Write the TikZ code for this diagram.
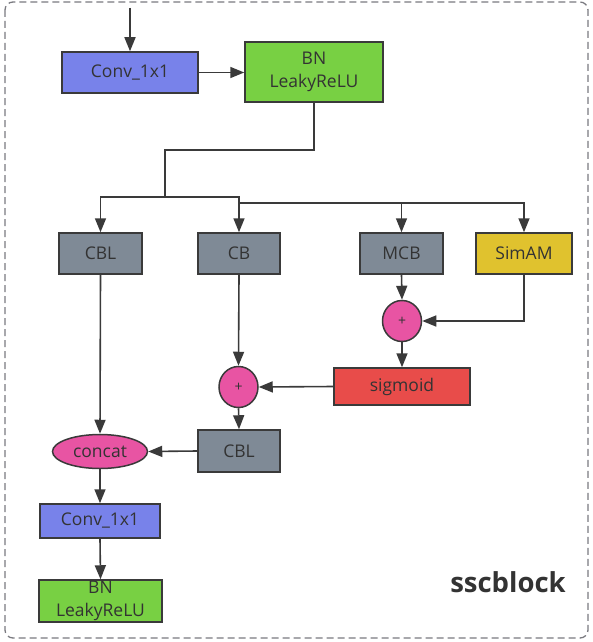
\documentclass[tikz,border=0pt]{standalone}
\usepackage{fontspec}
\setmainfont{Open Sans}
\usetikzlibrary{arrows.meta,shapes.geometric}
\definecolor{txt}{HTML}{333333}
\definecolor{edge}{HTML}{3A3A3A}
\definecolor{convblue}{HTML}{7882EA}
\definecolor{bngreen}{HTML}{78D043}
\definecolor{opgrey}{HTML}{7F8A96}
\definecolor{simyellow}{HTML}{E0C22E}
\definecolor{sigred}{HTML}{E84C4A}
\definecolor{oppink}{HTML}{E854A3}
\definecolor{frame}{HTML}{7A7A80}
\begin{document}
\begin{tikzpicture}[x=1pt,y=-1pt,
  every node/.style={font=\fontsize{17.5}{22.5}\selectfont, text=txt},
  box/.style={draw=edge, line width=1.5pt, rectangle, inner sep=0pt, align=center},
  addop/.style={draw=edge, line width=1.5pt, ellipse, fill=oppink, inner sep=0pt,
    minimum width=39pt, minimum height=41pt, font=\fontsize{14}{14}\selectfont},
  arr/.style={draw=edge, line width=1.6pt, -{Triangle[length=14pt,width=11pt]}},
  link/.style={draw=edge, line width=1.6pt}]
\useasboundingbox (0,0) rectangle (592,642);
\draw[frame, line width=1.3pt, dash pattern=on 7pt off 4pt, rounded corners=8pt] (5,2) rectangle (588,638);

% stem
\node[box, fill=convblue, minimum width=136pt, minimum height=41pt] (conv1) at (130,72.5) {Conv\_1x1};
\node[box, fill=bngreen, minimum width=138pt, minimum height=60pt] (bn1) at (314,72) {BN\\LeakyReLU};

% four branches
\node[box, fill=opgrey, minimum width=83pt, minimum height=41pt] (cbl1) at (100.5,253.5) {CBL};
\node[box, fill=opgrey, minimum width=82pt, minimum height=41pt] (cb) at (239,253.5) {CB};
\node[box, fill=opgrey, minimum width=83pt, minimum height=41pt] (mcb) at (401.5,253.5) {MCB};
\node[box, fill=simyellow, minimum width=96pt, minimum height=41pt] (simam) at (524,253.5) {SimAM};

\node[addop] (plus1) at (402,321) {+};
\node[box, fill=sigred, minimum width=136pt, minimum height=37pt] (sigmoid) at (402,386.5) {sigmoid};
\node[addop] (plus2) at (238.5,387) {+};
\node[box, fill=opgrey, minimum width=82pt, minimum height=42pt] (cbl2) at (239,451) {CBL};

% fusion head
\node[draw=edge, line width=1.5pt, ellipse, fill=oppink, inner sep=0pt,
      minimum width=95pt, minimum height=34pt] (concat) at (100,451.5) {concat};
\node[box, fill=convblue, minimum width=120pt, minimum height=34pt] (conv2) at (100,521) {Conv\_1x1};
\node[box, fill=bngreen, minimum width=123pt, minimum height=42pt] (bn2) at (100.5,601) {BN\\LeakyReLU};

\node[font=\bfseries\fontsize{27.5}{30}\selectfont, text=txt] (title) at (508,582) {sscblock};

% connectors
\coordinate (in) at (130,8);
\coordinate (elbow) at (314,150);
\coordinate (split) at (165,197);
\coordinate (split2) at (239,203);

\draw[arr] (in) -- (conv1.north);
\draw[arr] (conv1.east) -- (bn1.west |- conv1.east);
\draw[link] (bn1.south) -- (elbow) -| (split);
\draw[arr] (split) -| (cbl1.north);
\draw[arr] (split) -| (cb.north);
\draw[arr] (split2) -| (mcb.north);
\draw[arr] (split2) -| (simam.north);

\draw[arr] (mcb.south) -- (plus1.north);
\draw[arr] (simam.south) |- (plus1.east);
\draw[arr] (plus1.south) -- (sigmoid.north);
\draw[arr] (sigmoid.west) -- (plus2.east);
\draw[arr] (cb.south) -- (plus2.north);
\draw[arr] (plus2.south) -- (cbl2.north);

\draw[arr] (cbl1.south) -- (concat.north);
\draw[arr] (cbl2.west) -- (concat.east);
\draw[arr] (concat.south) -- (conv2.north);
\draw[arr] (conv2.south) -- (bn2.north);
\end{tikzpicture}
\end{document}
